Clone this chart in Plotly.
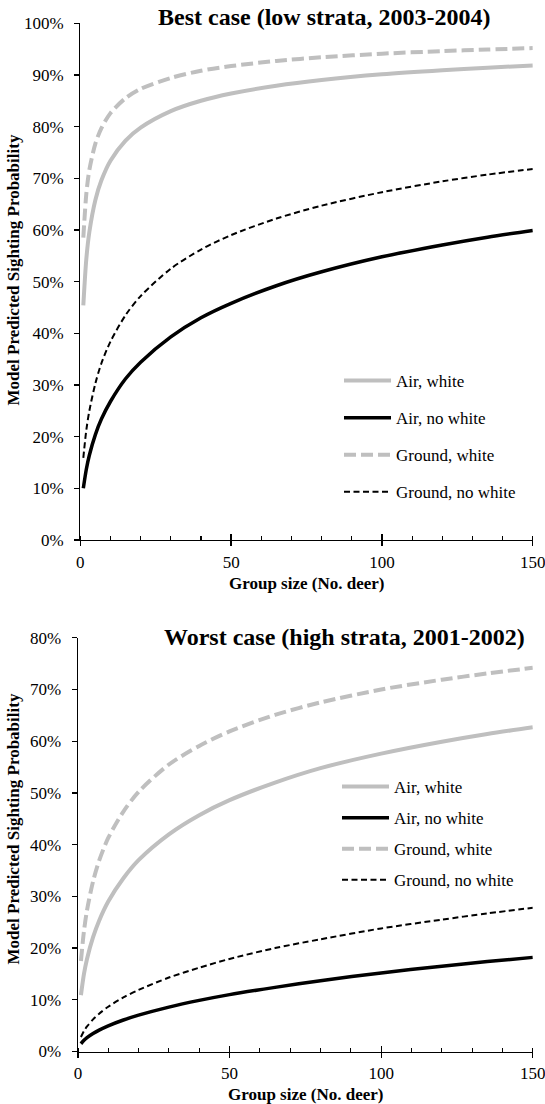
import plotly.graph_objects as go

# Group size (No. deer)
group_size = [1, 2, 3, 5, 7, 10, 15, 20, 30, 40, 50, 65, 80, 100, 120, 135, 150]

# Best case (low strata, 2003-2004) - predicted sighting probability
best_air_white = [0.454, 0.544, 0.596, 0.658, 0.696, 0.734, 0.773, 0.798, 0.830, 0.850,
                  0.864, 0.879, 0.890, 0.901, 0.909, 0.914, 0.918]
best_air_nowhite = [0.100, 0.137, 0.164, 0.204, 0.234, 0.268, 0.312, 0.344, 0.393, 0.430,
                    0.458, 0.492, 0.519, 0.548, 0.571, 0.586, 0.599]
best_ground_white = [0.585, 0.670, 0.716, 0.767, 0.797, 0.826, 0.855, 0.873, 0.894, 0.908,
                     0.917, 0.927, 0.934, 0.941, 0.946, 0.949, 0.952]
best_ground_nowhite = [0.159, 0.213, 0.250, 0.303, 0.342, 0.384, 0.435, 0.472, 0.525, 0.562,
                       0.590, 0.622, 0.647, 0.673, 0.694, 0.707, 0.718]

# Worst case (high strata, 2001-2002)
worst_air_white = [0.109, 0.150, 0.179, 0.221, 0.253, 0.290, 0.335, 0.370, 0.420, 0.457,
                   0.486, 0.520, 0.548, 0.576, 0.599, 0.614, 0.627]
worst_air_nowhite = [0.015, 0.0216, 0.0267, 0.0347, 0.0413, 0.0496, 0.0609, 0.0703, 0.0859,
                     0.0988, 0.110, 0.124, 0.137, 0.152, 0.165, 0.174, 0.182]
worst_ground_white = [0.175, 0.233, 0.273, 0.329, 0.369, 0.413, 0.464, 0.502, 0.555, 0.591,
                      0.619, 0.651, 0.675, 0.700, 0.719, 0.731, 0.742]
worst_ground_nowhite = [0.028, 0.0396, 0.0484, 0.0621, 0.0731, 0.0866, 0.1046, 0.119, 0.143,
                        0.162, 0.179, 0.200, 0.217, 0.238, 0.255, 0.267, 0.278]

series_names = ["Air, white", "Air, no white", "Ground, white", "Ground, no white"]
panel_titles = ["Best case (low strata, 2003-2004)", "Worst case (high strata, 2001-2002)"]
x_title = "Group size (No. deer)"
y_title = "Model Predicted Sighting Probability"

GRAY = "#BFBFBF"
BLACK = "#000000"
FONT = "Liberation Serif"

styles = [
    dict(color=GRAY, width=4, dash="solid"),
    dict(color=BLACK, width=3.5, dash="solid"),
    dict(color=GRAY, width=4, dash="12px,5px"),
    dict(color=BLACK, width=2, dash="6px,3.5px"),
]

fig = go.Figure()

panels = [
    ([best_air_white, best_air_nowhite, best_ground_white, best_ground_nowhite], "x", "y", "legend"),
    ([worst_air_white, worst_air_nowhite, worst_ground_white, worst_ground_nowhite], "x2", "y2", "legend2"),
]
for p, (data, xa, ya, lg) in enumerate(panels):
    for i, (vals, name, st) in enumerate(zip(data, series_names, styles)):
        fig.add_trace(go.Scatter(
            x=group_size, y=vals, name=name, mode="lines",
            line=dict(color=st["color"], width=st["width"], dash=st["dash"],
                      shape="spline", smoothing=0.8),
            xaxis=xa, yaxis=ya, legend=lg, legendgroup=f"{lg}_{i}",
            hoverinfo="skip",
        ))

W, H = 545, 1104
def px_x(v):
    return v / W
def px_y(v):
    return (H - v) / H

tickfont = dict(family=FONT, size=17, color="black")
common_x = dict(range=[0, 150], tickvals=[0, 50, 100, 150], ticks="outside", ticklen=5,
                tickwidth=1.3, tickcolor="black", showline=True, linecolor="black",
                linewidth=1.3, showgrid=False, zeroline=False, tickfont=tickfont,
                ticklabelstandoff=1, automargin=False, ticklabeloverflow="allow",
                minor=dict(ticks="inside", dtick=10, tick0=0, ticklen=4, tickwidth=1.2,
                           tickcolor="black", showgrid=False))
common_y = dict(ticks="outside", ticklen=5, tickwidth=1.3, tickcolor="black", showline=True,
                linecolor="black", linewidth=1.3, showgrid=False, zeroline=False,
                tickformat=".0%", dtick=0.1, tick0=0, tickfont=tickfont,
                ticklabelstandoff=7, automargin=False, ticklabeloverflow="allow")
overlay_x = dict(range=[0, 150], tickvals=[0, 50, 100, 150], ticks="inside", ticklen=6,
                 tickwidth=1.3, tickcolor="black", showline=False, showgrid=False,
                 zeroline=False, showticklabels=False, automargin=False)

top_xdom = [px_x(80.3), px_x(532.8)]
top_ydom = [px_y(540), px_y(23.2)]
bot_xdom = [px_x(77.9), px_x(532.8)]
bot_ydom = [px_y(1051.5), px_y(637.8)]

fig.update_layout(
    width=W, height=H,
    margin=dict(l=0, r=0, t=0, b=0, autoexpand=False),
    paper_bgcolor="white", plot_bgcolor="white",
    showlegend=True,
    xaxis=dict(domain=top_xdom, anchor="y", **common_x),
    yaxis=dict(domain=top_ydom, anchor="x", range=[0, 1.0], **common_y),
    xaxis2=dict(domain=bot_xdom, anchor="y2", **common_x),
    yaxis2=dict(domain=bot_ydom, anchor="x2", range=[0, 0.8], **common_y),
    xaxis3=dict(domain=top_xdom, anchor="y", overlaying="x", **overlay_x),
    xaxis4=dict(domain=bot_xdom, anchor="y2", overlaying="x2", **overlay_x),
    legend=dict(x=px_x(339), y=px_y(363), xanchor="left", yanchor="top",
                font=dict(family=FONT, size=17, color="black"), itemwidth=47,
                bgcolor="rgba(0,0,0,0)", tracegroupgap=12, itemclick=False),
    legend2=dict(x=px_x(337), y=px_y(769), xanchor="left", yanchor="top",
                 font=dict(family=FONT, size=17, color="black"), itemwidth=47,
                 bgcolor="rgba(0,0,0,0)", tracegroupgap=6, itemclick=False),
)

# dummy traces so the overlay tick axes are drawn
fig.add_trace(go.Scatter(x=[0], y=[None], xaxis="x3", yaxis="y", showlegend=False, hoverinfo="skip"))
fig.add_trace(go.Scatter(x=[0], y=[None], xaxis="x4", yaxis="y2", showlegend=False, hoverinfo="skip"))

annots = [
    dict(text="<b>" + panel_titles[0] + "</b>", x=px_x(324), y=px_y(17), size=24),
    dict(text="<b>" + panel_titles[1] + "</b>", x=px_x(344), y=px_y(637), size=24),
    dict(text="<b>" + x_title + "</b>", x=px_x(306.5), y=px_y(583), size=17),
    dict(text="<b>" + x_title + "</b>", x=px_x(305.5), y=px_y(1094.5), size=17),
]
for a in annots:
    fig.add_annotation(text=a["text"], x=a["x"], y=a["y"], xref="paper", yref="paper",
                       xanchor="center", yanchor="middle", showarrow=False,
                       font=dict(family=FONT, size=a["size"], color="black"))
for yc in [270, 829]:
    fig.add_annotation(text="<b>" + y_title + "</b>", x=px_x(12.5), y=px_y(yc),
                       xref="paper", yref="paper", xanchor="center", yanchor="middle",
                       textangle=-90, showarrow=False,
                       font=dict(family=FONT, size=17, color="black"))

fig.write_html("out.html", config={"displayModeBar": False, "staticPlot": True},
               post_script="document.body.style.margin='0';document.body.style.overflow='hidden';")
